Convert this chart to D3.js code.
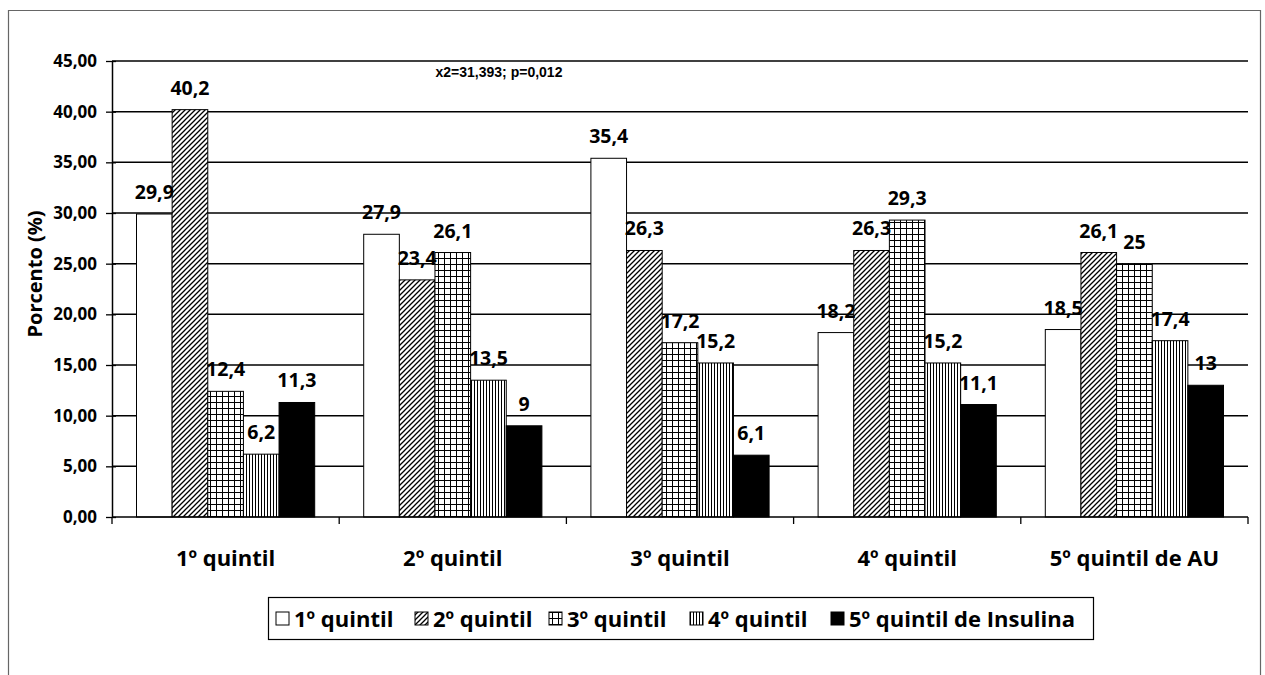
<!DOCTYPE html>
<html><head><meta charset="utf-8">
<script src="https://cdn.jsdelivr.net/npm/d3@7"></script>
<style>body{margin:0;background:#fff}</style>
</head><body>
<svg id="c" width="1265" height="675"></svg>
<script>
const categories = ["1º quintil","2º quintil","3º quintil","4º quintil","5º quintil de AU"];
const seriesNames = ["1º quintil","2º quintil","3º quintil","4º quintil","5º quintil de Insulina"];
const s1 = [29.9, 27.9, 35.4, 18.2, 18.5];
const s2 = [40.2, 23.4, 26.3, 26.3, 26.1];
const s3 = [12.4, 26.1, 17.2, 29.3, 25];
const s4 = [6.2, 13.5, 15.2, 15.2, 17.4];
const s5 = [11.3, 9, 6.1, 11.1, 13];
const yTicks = [0,5,10,15,20,25,30,35,40,45];
const annotation = "x2=31,393; p=0,012";
const series = [s1,s2,s3,s4,s5];
const fills = ["#fff","url(#pHatch)","url(#pGrid)","url(#pVert)","#000"];
const FONT = "'Open Sans', Lato, sans-serif";

const svg = d3.select("#c");
const defs = svg.append("defs");
const ph = defs.append("pattern").attr("id","pHatch").attr("patternUnits","userSpaceOnUse").attr("width",5).attr("height",5);
ph.append("rect").attr("width",5).attr("height",5).attr("fill","#fff");
ph.append("path").attr("d","M-1,1 L1,-1 M0,5 L5,0 M4,6 L6,4").attr("stroke","#000").attr("stroke-width",1.3);
const pg = defs.append("pattern").attr("id","pGrid").attr("patternUnits","userSpaceOnUse").attr("width",6).attr("height",6);
pg.append("rect").attr("width",6).attr("height",6).attr("fill","#fff");
pg.append("path").attr("d","M0.5,0 V6 M0,0.5 H6").attr("stroke","#000").attr("stroke-width",1);
const pv = defs.append("pattern").attr("id","pVert").attr("patternUnits","userSpaceOnUse").attr("width",3).attr("height",3);
pv.append("rect").attr("width",3).attr("height",3).attr("fill","#fff");
pv.append("path").attr("d","M0.5,0 V3").attr("stroke","#000").attr("stroke-width",1);

svg.append("path").attr("d","M8.5,676 V10.5 H1260.5 V676").attr("fill","none").attr("stroke","#666").attr("stroke-width",1.2);

const m = {left:112, right:1248, top:61, bottom:517};
const x0 = d3.scaleBand().domain(d3.range(categories.length)).range([m.left,m.right]).paddingInner(0).paddingOuter(0);
const inner = 24.5;
const x1 = d3.scaleBand().domain(d3.range(series.length)).range([inner, x0.bandwidth()-inner]);
const y = d3.scaleLinear().domain([0,45]).range([m.bottom,m.top]);

svg.append("g").selectAll("line").data(yTicks.filter(t=>t>0)).join("line")
  .attr("x1",m.left).attr("x2",m.right).attr("y1",d=>y(d)).attr("y2",d=>y(d))
  .attr("stroke","#000").attr("stroke-width",1.5);

const fmt = v => String(v).replace(".",",");
series.forEach((s,si)=>{
  svg.append("g").selectAll("rect").data(s).join("rect")
    .attr("x",(d,i)=>x0(i)+x1(si)).attr("width",x1.bandwidth())
    .attr("y",d=>y(d)).attr("height",d=>y(0)-y(d))
    .attr("fill",fills[si]).attr("stroke","#000").attr("stroke-width",1);
});
series.forEach((s,si)=>{
  svg.append("g").selectAll("text").data(s).join("text")
    .attr("x",(d,i)=>x0(i)+x1(si)+x1.bandwidth()/2).attr("y",d=>y(d)-15)
    .attr("text-anchor","middle")
    .attr("font-family",FONT).attr("font-weight","bold").attr("font-size",19.5)
    .attr("fill","#000").text(d=>fmt(d));
});

const yAxis = d3.axisLeft(y).tickValues(yTicks).tickFormat(d=>d3.format(".2f")(d).replace(".",",")).tickSizeInner(6).tickSizeOuter(0);
const ya = svg.append("g").attr("transform",`translate(${m.left},0)`).call(yAxis);
ya.select(".domain").attr("stroke","#000").attr("stroke-width",1.5);
ya.selectAll(".tick line").attr("x2",-6).attr("x1",4).attr("stroke","#000").attr("stroke-width",1.3);
ya.selectAll(".tick text").attr("x",-15).attr("font-family",FONT).attr("font-weight","bold").attr("font-size",17).attr("fill","#000");

const xBounds = d3.scaleLinear().domain([0,categories.length]).range([m.left,m.right]);
const xa = svg.append("g").attr("transform",`translate(0,${m.bottom})`);
xa.append("line").attr("x1",m.left).attr("x2",m.right).attr("stroke","#000").attr("stroke-width",1.5);
xa.selectAll(".tk").data(d3.range(categories.length+1)).join("line").attr("class","tk")
  .attr("x1",d=>xBounds(d)).attr("x2",d=>xBounds(d)).attr("y1",0).attr("y2",7).attr("stroke","#000").attr("stroke-width",1.3);
xa.selectAll("text").data(categories).join("text")
  .attr("x",(d,i)=>x0(i)+x0.bandwidth()/2).attr("y",49).attr("text-anchor","middle")
  .attr("font-family",FONT).attr("font-weight","bold").attr("font-size",22).attr("fill","#000").text(d=>d);

svg.append("text").attr("transform","translate(42,274) rotate(-90)").attr("text-anchor","middle")
  .attr("font-family",FONT).attr("font-weight","bold").attr("font-size",20).text("Porcento (%)");

svg.append("text").attr("x",499).attr("y",77).attr("text-anchor","middle")
  .attr("font-family","'Liberation Sans', Arial, sans-serif").attr("font-weight","bold").attr("font-size",14).text(annotation);

const lg = svg.append("g");
lg.append("rect").attr("x",268.5).attr("y",597.5).attr("width",825).attr("height",42).attr("fill","#fff").attr("stroke","#000").attr("stroke-width",1.2);
const legX = [276, 415, 549, 690, 831];
seriesNames.forEach((n,i)=>{
  lg.append("rect").attr("x",legX[i]).attr("y",612).attr("width",13).attr("height",13).attr("fill",fills[i]).attr("stroke","#000").attr("stroke-width",1);
  lg.append("text").attr("x",legX[i]+18).attr("y",627).attr("font-family",FONT).attr("font-weight","bold").attr("font-size",22).text(n);
});
</script>
</body></html>
